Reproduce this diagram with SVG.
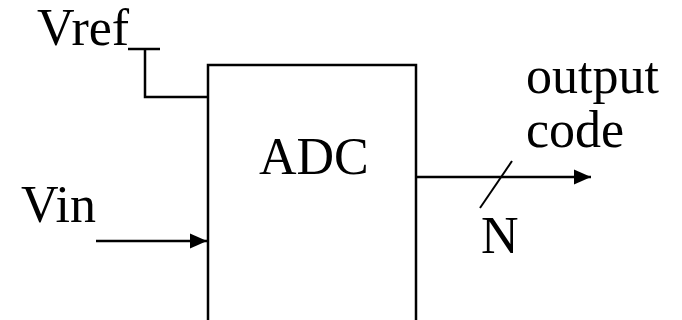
<svg xmlns="http://www.w3.org/2000/svg" width="682" height="320" viewBox="0 0 682 320">
<style>
text{font-family:"Liberation Serif","Times New Roman",serif;font-size:52px;fill:#000}
.w{stroke:#000;stroke-width:2.5;fill:none}
</style>
<defs>
<marker id="ah" markerWidth="17" markerHeight="18" refX="17" refY="9" orient="auto" markerUnits="userSpaceOnUse">
<path d="M0,1.5 L17,9 L0,16.5 Z" fill="#000"/>
</marker>
</defs>
<g id="adc">
<rect x="208" y="65" width="208" height="270" fill="#fff" stroke="#000" stroke-width="2.5"/>
<text x="259" y="174">ADC</text>
</g>
<g id="vref"><text x="37" y="45">Vref</text></g>
<g id="vin"><text x="21" y="222">Vin</text></g>
<g id="out"><text x="526" y="93">output</text><text x="526" y="147">code</text></g>
<g id="n"><text x="481" y="253">N</text></g>
<g id="connectors">
<polyline class="w" points="128,49 160,49"/>
<polyline class="w" points="145,49 145,97 208,97"/>
<line class="w" x1="96" y1="241" x2="207" y2="241" marker-end="url(#ah)"/>
<line class="w" x1="416" y1="177" x2="591" y2="177" marker-end="url(#ah)"/>
<line stroke="#000" stroke-width="2" x1="480" y1="208" x2="512" y2="161"/>
</g>
</svg>
